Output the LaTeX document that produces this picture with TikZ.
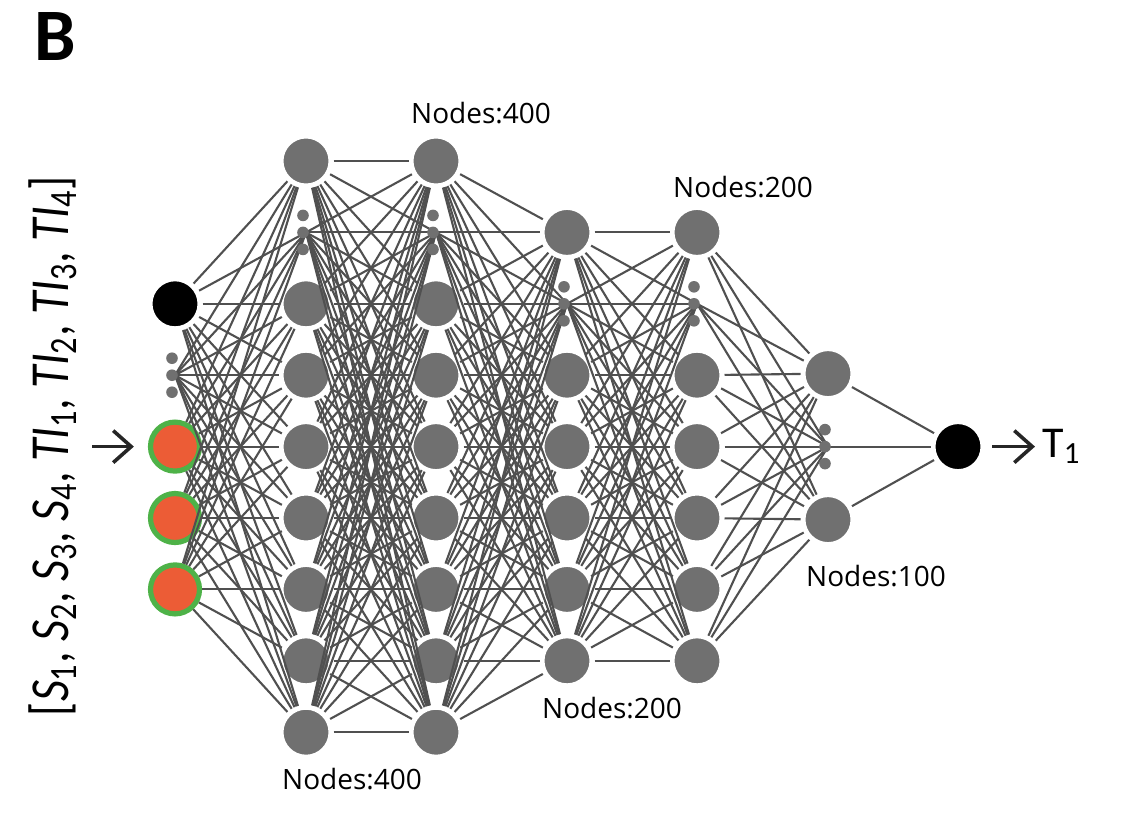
\documentclass[tikz,border=0pt]{standalone}
\usepackage{fontspec}
\setmainfont{Carlito}
\newfontfamily\countfont{Open Sans}
\usetikzlibrary{arrows.meta,positioning}
\definecolor{unitgray}{RGB}{112,112,112}
\definecolor{wiregray}{RGB}{80,80,80}
\definecolor{inorange}{RGB}{236,92,54}
\definecolor{ringgreen}{RGB}{78,178,72}
\newcommand\invar[2]{\textit{#1}\textsubscript{#2}}
\tikzset{
    %Define style for units
    unit/.style={
           circle,
           fill=unitgray,
           draw=white, line width=2.5pt,
           minimum size=25pt,
           inner sep=0pt},
    blackunit/.style={
           unit,
           fill=black},
    inunit/.style={
           circle,
           fill=inorange,
           draw=ringgreen, line width=2.6pt,
           minimum size=24.5pt,
           inner sep=0pt},
    gapmark/.style={coordinate},
    % Define line styles
    wire/.style={
           draw=wiregray,
           line width=1.05pt},
    feed/.style={
           -{Straight Barb[length=9pt,width=16pt]},
           draw=black!85,
           line width=1.8pt},
    countlabel/.style={font=\countfont\fontsize{14}{16}\selectfont}
}
\begin{document}
\begin{tikzpicture}[x=0.5pt,y=-0.5pt]
\useasboundingbox (0,0) rectangle (1124,820);
 %nodes
\foreach \k/\j [count=\i] in {blackunit/-2, gapmark/-1, inunit/0, inunit/1, inunit/2}
    \node[\k] (L0-\i) at (175,{446.6+71.4*\j}) {};
\foreach \k/\j [count=\i] in {unit/-4, gapmark/-3, unit/-2, unit/-1, unit/0, unit/1, unit/2, unit/3, unit/4}{
    \node[\k] (L1-\i) at (306,{446.6+71.4*\j}) {};
    \node[\k] (L2-\i) at (436,{446.6+71.4*\j}) {};
}
\foreach \k/\j [count=\i] in {unit/-3, gapmark/-2, unit/-1, unit/0, unit/1, unit/2, unit/3}{
    \node[\k] (L3-\i) at (567,{446.6+71.4*\j}) {};
    \node[\k] (L4-\i) at (697,{446.6+71.4*\j}) {};
}
\foreach \k/\j [count=\i] in {unit/-1, gapmark/0, unit/1}
    \node[\k] (L5-\i) at (828,{446.6+73*\j}) {};
\node[blackunit] (L6-1) at (958,446.6) {};

 %connections
\foreach \p/\m/\q/\n in {0/5/1/9, 1/9/2/9, 2/9/3/7, 3/7/4/7, 4/7/5/3, 5/3/6/1}
    \foreach \a in {1,...,\m}
        \foreach \b in {1,...,\n}
            \draw[wire] (L\p-\a) -- (L\q-\b);

 %dots
\foreach \g in {L0-2, L1-2, L2-2, L3-2, L4-2, L5-2}
    \foreach \d in {-8.5,0,8.5}
        \fill[unitgray] ([xshift=-1.5pt, yshift=\d pt]\g) circle (2.9pt);

 %labels
\node[font=\bfseries\fontsize{37}{40}\selectfont] (panel) at (55,37) {B};
\node[rotate=90, xscale=0.84, font=\fontsize{27.5}{30}\selectfont] (inputs) at (53,446) {[\invar{S}{1}, \invar{S}{2}, \invar{S}{3}, \invar{S}{4}, \invar{TI}{1}, \invar{TI}{2}, \invar{TI}{3}, \invar{TI}{4}]};
\node[countlabel] (n1) at (481,113) {Nodes:400};
\node[countlabel] (n2) at (352,779) {Nodes:400};
\node[countlabel] (n3) at (743,187) {Nodes:200};
\node[countlabel] (n4) at (612,708) {Nodes:200};
\node[countlabel] (n5) at (876,576) {Nodes:100};
\node[font=\fontsize{22}{24}\selectfont, anchor=west, inner sep=2pt] (target) at (1038,446.6) {T\textsubscript{1}};

 %arrows
\coordinate (feed-in) at (92,446.6);
\draw[feed, shorten >=7pt] (feed-in) -- (L0-3);
\draw[feed, shorten <=3.25pt, shorten >=1.5pt] (L6-1) -- (target);
\end{tikzpicture}
\end{document}
